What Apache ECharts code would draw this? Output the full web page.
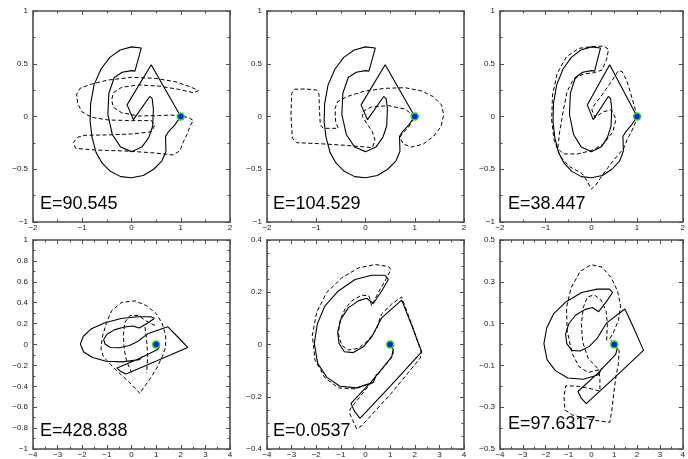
<!DOCTYPE html>
<html>
<head>
<meta charset="utf-8">
<script src="https://cdn.jsdelivr.net/npm/echarts@6/dist/echarts.min.js"></script>
<style>
  html, body { margin: 0; padding: 0; background: #fff; }
  #chart { width: 688px; height: 459px; }
</style>
</head>
<body>
<div id="chart"></div>
<script>
// target shape for the top row (same in all three panels)
const topTarget = [
  [1.0, 0.0], [0.40, 0.49], [-0.09, 0.11], [0.04, -0.03], [0.37, 0.19], [0.42, 0.17],
  [0.445, 0.07], [0.43, -0.09], [0.35, -0.20], [0.21, -0.29], [0.0, -0.333], [-0.22, -0.29],
  [-0.39, -0.17], [-0.48, 0.02], [-0.46, 0.22], [-0.35, 0.37], [-0.19, 0.42], [0.0, 0.435],
  [0.07, 0.43], [0.20, 0.65], [0.0, 0.66], [-0.23, 0.63], [-0.44, 0.56], [-0.62, 0.45],
  [-0.76, 0.30], [-0.83, 0.12], [-0.84, -0.05], [-0.80, -0.20], [-0.72, -0.34], [-0.60, -0.44],
  [-0.43, -0.52], [-0.22, -0.57], [0.0, -0.58], [0.24, -0.56], [0.45, -0.50], [0.62, -0.42],
  [0.70, -0.33], [0.69, -0.19], [0.75, -0.145], [0.88, -0.08], [1.0, 0.0]
];

// target shape for the bottom row (same in all three panels)
const bottomTarget = [
  [1.0, 0.0], [1.13, -0.019], [1.063, -0.047], [0.251, -0.141], [-0.589, -0.225], [-0.454, -0.255],
  [-0.224, -0.283], [1.035, -0.156], [2.281, -0.028], [1.902, 0.067], [1.468, 0.17], [0.656, 0.102],
  [0.494, 0.073], [0.251, 0.029], [-0.088, -0.009], [-0.494, -0.031], [-0.859, -0.028], [-1.076, 0.004],
  [-1.13, 0.048], [-0.995, 0.098], [-0.697, 0.14], [-0.291, 0.167], [0.047, 0.177], [0.318, 0.157],
  [0.656, 0.205], [0.927, 0.249], [0.792, 0.265], [0.251, 0.265], [-0.426, 0.249], [-1.103, 0.205],
  [-1.645, 0.148], [-1.956, 0.079], [-2.078, 0.004], [-1.942, -0.072], [-1.577, -0.125], [-1.036, -0.16],
  [-0.359, -0.166], [0.318, -0.145], [0.45, -0.113]
];

// dashed estimates, one list of pieces per panel
const guessE1 = [[
  [1.0, 0.0], [0.816, 0.014], [0.545, 0.008], [0.139, 0.005], [-0.199, 0.036], [-0.369, 0.087],
  [-0.402, 0.157], [-0.369, 0.226], [-0.199, 0.277], [0.139, 0.299], [0.545, 0.289], [0.951, 0.258],
  [1.256, 0.226], [1.357, 0.245], [1.188, 0.283], [0.883, 0.33], [0.477, 0.362], [0.004, 0.371],
  [-0.47, 0.346], [-0.809, 0.308], [-1.045, 0.267], [-1.113, 0.213], [-1.093, 0.125], [-1.012, 0.046],
  [-0.809, -0.008], [-0.47, -0.033], [0.004, -0.039], [0.41, -0.039], [0.464, -0.09], [0.41, -0.144],
  [0.004, -0.166], [-0.538, -0.175], [-0.944, -0.178], [-1.093, -0.197], [-1.181, -0.248], [-1.133, -0.302],
  [-0.741, -0.318], [-0.132, -0.327], [0.41, -0.343], [0.85, -0.365], [0.985, -0.324], [1.053, -0.239],
  [1.141, -0.159], [1.188, -0.09], [1.256, -0.039], [1.154, -0.008], [1.0, 0.0]
]];

const guessE2 = [[
  [1.0, 0.0], [0.802, 0.071], [0.464, 0.103], [0.125, 0.09], [-0.044, 0.052], [-0.064, -0.001],
  [0.024, -0.065], [0.139, -0.144], [0.193, -0.223], [0.139, -0.295], [-0.01, -0.289], [-0.416, -0.273],
  [-0.958, -0.257], [-1.398, -0.248], [-1.486, -0.207], [-1.513, 0.014], [-1.499, 0.22], [-1.445, 0.258],
  [-1.228, 0.261], [-0.992, 0.251], [-0.944, 0.21], [-0.937, 0.078], [-0.917, -0.08], [-0.856, -0.112],
  [-0.552, -0.112], [-0.606, -0.049], [-0.619, 0.078], [-0.565, 0.141], [-0.382, 0.188], [-0.01, 0.242],
  [0.396, 0.267], [0.802, 0.273], [1.14, 0.242], [1.377, 0.188], [1.546, 0.109], [1.587, 0.014],
  [1.533, -0.096], [1.377, -0.191], [1.174, -0.261], [0.937, -0.289], [0.768, -0.261], [0.701, -0.201],
  [0.748, -0.159], [0.87, -0.106], [1.0, 0.0]
]];

const guessE3 = [[
  [1.0, 0.0], [0.944, 0.093], [0.849, 0.235], [0.768, 0.346], [0.673, 0.425], [0.592, 0.434],
  [0.436, 0.33], [0.233, 0.204], [0.064, 0.109], [0.01, 0.062], [0.078, -0.008], [0.267, 0.046],
  [0.436, 0.062], [0.538, -0.027], [0.47, -0.144], [0.267, -0.261], [-0.004, -0.324], [-0.308, -0.355],
  [-0.613, -0.355], [-0.735, -0.302], [-0.694, -0.144], [-0.613, 0.062], [-0.532, 0.235], [-0.396, 0.352],
  [-0.173, 0.403], [0.064, 0.415], [0.233, 0.441], [0.335, 0.542], [0.375, 0.637], [0.267, 0.668],
  [-0.004, 0.662], [-0.274, 0.646], [-0.545, 0.567], [-0.748, 0.409], [-0.85, 0.204], [-0.87, -0.033],
  [-0.816, -0.223], [-0.68, -0.381], [-0.477, -0.476], [-0.207, -0.539], [-0.085, -0.618], [-0.004, -0.69],
  [0.098, -0.649], [0.267, -0.539], [0.504, -0.406], [0.707, -0.302], [0.795, -0.207], [0.876, -0.144],
  [0.957, -0.065], [1.0, 0.0]
]];

const guessE4 = [
  [
    [0.345, -0.469], [-0.129, -0.352], [-0.67, -0.236], [-1.144, -0.116], [-1.239, -0.038], [-1.184, 0.072],
    [-1.009, 0.214], [-0.805, 0.324], [-0.399, 0.403], [0.142, 0.418], [0.616, 0.371], [1.022, 0.292],
    [1.252, 0.198], [1.387, 0.088], [1.387, -0.022], [1.252, -0.116], [1.022, -0.227], [0.751, -0.33],
    [0.481, -0.415], [0.345, -0.469]
  ],
  [
    [0.954, 0.182], [0.616, 0.223], [0.277, 0.277], [-0.061, 0.277], [-0.264, 0.214], [-0.332, 0.088],
    [-0.291, -0.054], [-0.196, -0.164], [0.007, -0.267]
  ],
  [[0.548, 0.167], [0.616, 0.041], [0.657, -0.116], [0.616, -0.274]]
];

const guessE5 = [[
  [1.0, 0.0], [1.063, -0.009], [1.13, -0.034], [1.035, -0.053], [0.115, -0.16], [-0.629, -0.248],
  [-0.629, -0.267], [-0.359, -0.323], [-0.156, -0.311], [1.063, -0.185], [2.213, -0.053], [2.281, -0.034],
  [1.942, 0.06], [1.468, 0.182], [1.063, 0.155], [0.656, 0.117], [0.548, 0.089], [0.454, 0.06],
  [0.115, 0.016], [-0.291, -0.015], [-0.697, -0.021], [-0.968, -0.003], [-1.103, 0.041], [-1.036, 0.092],
  [-0.833, 0.136], [-0.562, 0.167], [-0.156, 0.189], [0.142, 0.186], [0.251, 0.148], [0.521, 0.199],
  [0.792, 0.243], [1.035, 0.287], [0.927, 0.299], [0.386, 0.306], [-0.291, 0.293], [-0.968, 0.255],
  [-1.577, 0.199], [-1.983, 0.123], [-2.159, 0.035], [-2.051, -0.059], [-1.645, -0.128], [-1.103, -0.166],
  [-0.426, -0.17], [0.251, -0.147]
]];

const guessE6 = [
  [
    [1.0, 0.0], [1.212, -0.027], [1.185, -0.09], [1.077, -0.152], [0.982, -0.231], [0.901, -0.31],
    [0.806, -0.373], [-0.006, -0.36], [-0.819, -0.338], [-1.157, -0.313], [-1.198, -0.247], [-1.116, -0.197],
    [-0.548, -0.2], [-0.006, -0.212], [0.373, -0.223], [0.373, -0.168], [0.332, -0.121], [-0.142, -0.134],
    [-0.548, -0.105], [-0.846, -0.042], [-1.062, 0.068], [-1.089, 0.178], [-0.886, 0.272], [-0.48, 0.351],
    [-0.006, 0.382], [0.467, 0.37], [0.874, 0.319], [1.144, 0.256], [1.28, 0.186], [1.185, 0.115],
    [0.941, 0.052], [0.806, 0.028], [1.0, 0.0]
  ],
  [
    [0.67, 0.02], [0.698, 0.099], [0.643, 0.159], [0.427, 0.212], [0.129, 0.237], [-0.169, 0.228],
    [-0.345, 0.181], [-0.44, 0.099], [-0.385, 0.013], [-0.142, -0.066], [0.332, -0.121]
  ]
];

const pinPoint = [[1, 0]];
const energyLabels = ['E=90.545', 'E=104.529', 'E=38.447', 'E=428.838', 'E=0.0537', 'E=97.6317'];

// axis ranges: [min, max, interval, minor splits]
const topX = [-2, 2, 1, 2];
const topY = [-1, 1, 0.5, 2];
const bottomX = [-4, 4, 1, 2];
const panel4Y = [-1, 1, 0.2, 2];
const panel5Y = [-0.4, 0.4, 0.2, 4];
const panel6Y = [-0.5, 0.5, 0.2, 2];

const panels = [
  { left: 33, top: 11, height: 211, x: topX, y: topY, target: topTarget, guess: guessE1, text: [40, 204] },
  { left: 267, top: 11, height: 211, x: topX, y: topY, target: topTarget, guess: guessE2, text: [273, 204] },
  { left: 500, top: 11, height: 211, x: topX, y: topY, target: topTarget, guess: guessE3, text: [508, 204] },
  { left: 33, top: 240, height: 212, x: bottomX, y: panel4Y, target: bottomTarget, guess: guessE4, text: [40, 431] },
  { left: 267, top: 240, height: 212, x: bottomX, y: panel5Y, target: bottomTarget, guess: guessE5, text: [273, 431] },
  { left: 500, top: 240, height: 212, x: bottomX, y: panel6Y, target: bottomTarget, guess: guessE6, text: [508, 424] }
];

const frameColor = '#4d4d4d';

function fmt(v) {
  let s = String(Math.round(v * 1000) / 1000);
  if (s === '-0') s = '0';
  return s.replace('-', '\u2212');
}

function makeAxis(range, gridIndex, position, labels) {
  return {
    type: 'value',
    gridIndex: gridIndex,
    position: position,
    min: range[0],
    max: range[1],
    interval: range[2],
    axisLine: { show: true, onZero: false, lineStyle: { color: frameColor, width: 1.6 } },
    axisTick: { show: true, inside: true, length: 4, lineStyle: { color: frameColor, width: 1 } },
    minorTick: { show: true, splitNumber: range[3], length: 2.5, lineStyle: { color: frameColor, width: 1 } },
    splitLine: { show: false },
    minorSplitLine: { show: false },
    axisLabel: {
      show: labels,
      fontSize: 8,
      color: '#222',
      fontFamily: 'Liberation Sans, Arial, sans-serif',
      margin: (position === 'left') ? 5 : 2,
      formatter: fmt
    }
  };
}

const grid = [], xAxis = [], yAxis = [], series = [], graphic = [];

panels.forEach((p, i) => {
  grid.push({ left: p.left, top: p.top, width: 197, height: p.height, containLabel: false });
  xAxis.push(makeAxis(p.x, i, 'bottom', true));
  xAxis.push(makeAxis(p.x, i, 'top', false));
  yAxis.push(makeAxis(p.y, i, 'left', true));
  yAxis.push(makeAxis(p.y, i, 'right', false));

  const ax = { xAxisIndex: 2 * i, yAxisIndex: 2 * i };
  series.push(Object.assign({
    type: 'line',
    data: p.target,
    symbol: 'none',
    smooth: false,
    clip: true,
    silent: true,
    lineStyle: { color: '#000', width: 1.1 }
  }, ax));
  p.guess.forEach(piece => {
    series.push(Object.assign({
      type: 'line',
      data: piece,
      symbol: 'none',
      smooth: false,
      clip: true,
      silent: true,
      lineStyle: { color: '#000', width: 1, type: [4, 2.5] }
    }, ax));
  });
  series.push(Object.assign({
    type: 'scatter',
    data: pinPoint,
    symbolSize: 7,
    z: 5,
    silent: true,
    itemStyle: { color: '#1a1aff', borderColor: '#22dd22', borderWidth: 1.5, opacity: 1 }
  }, ax));

  graphic.push({
    type: 'text',
    x: p.text[0],
    y: p.text[1],
    style: {
      text: energyLabels[i],
      fontSize: 18,
      fontFamily: 'Liberation Sans, Arial, sans-serif',
      fill: '#000',
      verticalAlign: 'middle'
    }
  });
});

const chart = echarts.init(document.getElementById('chart'), null, { renderer: 'canvas' });
chart.setOption({
  animation: false,
  backgroundColor: '#fff',
  grid: grid,
  xAxis: xAxis,
  yAxis: yAxis,
  series: series,
  graphic: graphic
});
</script>
</body>
</html>
